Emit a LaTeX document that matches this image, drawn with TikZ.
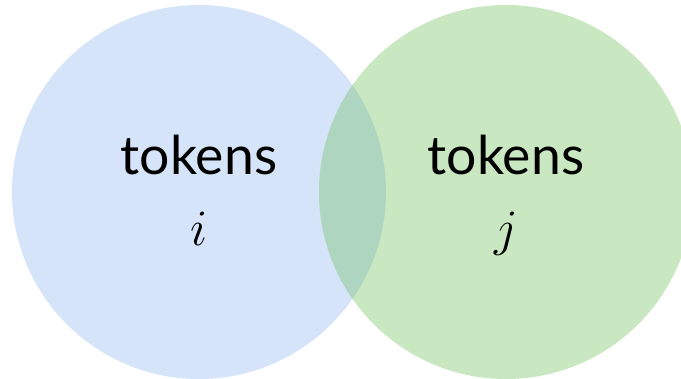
\RequirePackage{fix-cm}
\documentclass[tikz,border=0pt]{standalone}
\usepackage{fontspec}
\newfontfamily\labelfont{Lato}
\definecolor{setblue}{RGB}{214,228,250}
\definecolor{setgreen}{RGB}{201,231,193}
\definecolor{setboth}{RGB}{174,213,191}
\tikzset{
  setlabel/.style={anchor=base, inner sep=0pt, font=\labelfont\fontsize{53.5}{60}\selectfont},
  setindex/.style={anchor=base, inner sep=0pt, font=\fontsize{51}{60}\selectfont},
}
\begin{document}
\begin{tikzpicture}[x=1pt, y=-1pt]
  \useasboundingbox (0,0) rectangle (681,379);
  \begin{scope}
    \clip (0,0) rectangle (681,379);
    % the two sets
    \fill[setblue] (199,192) circle[radius=187];
    \fill[setgreen] (506,192) circle[radius=187];
    % their intersection
    \begin{scope}
      \clip (199,192) circle[radius=187];
      \fill[setboth] (506,192) circle[radius=187];
    \end{scope}
  \end{scope}
  \node[setlabel] (ti) at (199,175) {tokens};
  \node[setindex] (ii) at (199,246) {$i$};
  \node[setlabel] (tj) at (506,175) {tokens};
  \node[setindex] (jj) at (506,246) {$j$};
\end{tikzpicture}
\end{document}
